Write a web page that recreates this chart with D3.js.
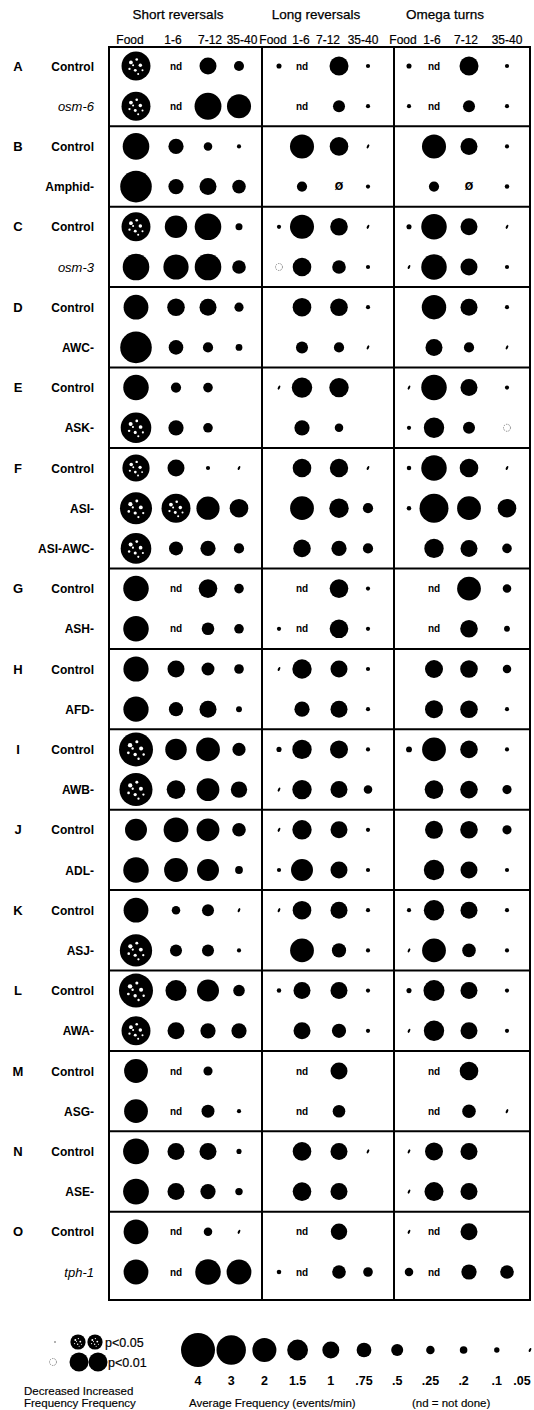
<!DOCTYPE html>
<html>
<head>
<meta charset="utf-8">
<script src="https://cdn.jsdelivr.net/npm/d3@7"></script>
<style>
body { margin: 0; background: #fff; }
svg { display: block; font-family: "Liberation Sans", Arial, sans-serif; }
</style>
</head>
<body>
<div id="chart"></div>
<script>
// behaviours and time windows (panels and columns)
const behaviours = ["Short reversals", "Long reversals", "Omega turns"];
const times = ["Food", "1-6", "7-12", "35-40"];

// rows of the figure
const rowGroups = ["A","A","B","B","C","C","D","D","E","E","F","F","F","G","G","H","H","I","I","J","J","K","K","L","L","M","M","N","N","O","O"];
const rowNames = ["Control","osm-6","Control","Amphid-","Control","osm-3","Control","AWC-","Control","ASK-",
  "Control","ASI-","ASI-AWC-","Control","ASH-","Control","AFD-","Control","AWB-","Control","ADL-",
  "Control","ASJ-","Control","AWA-","Control","ASG-","Control","ASE-","Control","tph-1"];
const italicNames = ["osm-6", "osm-3", "tph-1"];

// average frequency (events/min); null = blank, "nd" = not done, "0" = zero, "dec" = decreased p<0.01
const shortRev = [
  [2.9,"nd",1.0,0.35],[2.9,"nd",2.5,2.0],
  [2.45,0.8,0.25,0.06],[3.45,0.8,1.0,0.64],
  [2.9,1.74,2.45,0.17],[2.45,2.2,2.45,0.64],
  [2.13,1.07,1.0,0.29],[3.45,0.74,0.36,0.16],
  [2.25,0.36,0.32,null],[3.24,0.8,0.32,null],
  [2.56,1.0,0.06,0.05],[3.55,2.9,1.86,1.2],[3.24,0.68,0.8,0.36],
  [2.25,"nd",1.2,0.32],[2.25,"nd",0.55,0.32],
  [2.2,1.0,0.58,0.32],[2.2,0.7,1.0,0.12],
  [4.0,1.6,1.96,0.6],[3.77,1.2,1.8,0.93],
  [1.67,2.13,1.8,0.64],[2.25,1.96,1.67,0.21],
  [2.13,0.25,0.5,0.05],[3.6,0.5,0.5,0.06],
  [4.0,1.53,1.67,0.46],[2.9,1.0,0.8,0.8],
  [1.96,"nd",0.29,null],[1.96,"nd",0.58,0.06],
  [2.3,1.0,1.0,0.09],[2.3,1.0,0.8,0.19],
  [2.13,"nd",0.25,0.05],[2.13,"nd",2.25,2.13]
];
const longRev = [
  [0.09,"nd",1.25,0.06],[null,"nd",0.5,0.06],
  [null,2.0,1.2,0.05],[null,0.36,"0",0.06],
  [0.06,2.0,1.07,0.05],["dec",1.2,0.64,0.06],
  [null,1.2,1.07,0.06],[null,0.5,0.36,0.05],
  [0.05,1.44,1.3,null],[null,0.8,0.25,null],
  [null,1.2,1.17,0.05],[null,1.96,1.3,0.36],[null,1.07,0.8,0.36],
  [null,"nd",1.2,0.06],[0.06,"nd",1.2,0.06],
  [0.05,1.3,1.0,0.06],[null,0.8,1.0,0.06],
  [0.09,1.3,1.12,0.06],[0.05,1.3,1.0,0.25],
  [0.05,1.3,1.0,0.06],[0.06,1.67,1.0,0.06],
  [0.05,1.2,1.0,0.06],[null,1.96,0.7,0.06],
  [0.07,1.0,1.0,0.06],[null,1.0,0.7,0.06],
  [null,"nd",1.0,null],[null,"nd",0.55,null],
  [null,1.2,1.0,0.05],[null,1.2,1.0,null],
  [null,"nd",0.93,null],[0.07,"nd",0.64,0.32]
];
const omegaTurns = [
  [0.09,"nd",1.25,0.06],[0.06,"nd",0.5,0.06],
  [null,2.0,1.0,0.06],[null,0.36,"0",0.07],
  [0.09,2.25,1.0,0.05],[0.05,2.25,1.0,0.06],
  [null,2.07,1.0,0.06],[null,1.0,0.36,0.05],
  [0.05,2.25,1.0,0.06],[0.06,1.44,0.5,"dec"],
  [0.07,2.25,1.2,0.05],[0.07,2.9,1.96,1.2],[null,1.3,1.0,0.32],
  [null,"nd",1.96,0.25],[null,"nd",1.07,0.12],
  [null,1.12,1.07,0.25],[null,1.12,1.07,0.06],
  [0.12,1.96,1.07,0.06],[null,1.2,1.07,0.29],
  [null,1.12,1.07,0.29],[null,1.44,1.0,0.06],
  [0.06,1.44,1.0,0.06],[0.05,1.96,0.64,0.06],
  [0.09,1.53,1.0,0.06],[0.05,1.44,1.0,0.06],
  [null,"nd",1.2,null],[null,"nd",0.64,0.05],
  [0.05,1.12,1.0,null],[0.05,1.25,1.0,null],
  [0.05,"nd",1.0,null],[0.25,"nd",0.8,0.64]
];
// increased frequency p<0.05 (speckled), as [behaviour, row, time]
const speckled = [[0,0,0],[0,1,0],[0,4,0],[0,9,0],[0,10,0],[0,11,0],[0,11,1],[0,12,0],
  [0,17,0],[0,18,0],[0,22,0],[0,23,0],[0,24,0]];

// size legend
const legendValues = [4, 3, 2, 1.5, 1, 0.75, 0.5, 0.25, 0.2, 0.1, 0.05];
const legendLabels = ["4", "3", "2", "1.5", "1", ".75", ".5", ".25", ".2", ".1", ".05"];

const width = 534, height = 1410;
const svg = d3.select("#chart").append("svg")
  .attr("width", width).attr("height", height);

const panels = [shortRev, longRev, omegaTurns];
const panelEdges = [109, 262, 394, 530];
const colX = [[136,176,208,239],[279,302,339,368],[409,434,469,507]];
const colLabelX = [[130,173,210,242],[273,301,328,363],[403,432,466,507]];

const y = d3.scalePoint().domain(d3.range(rowNames.length)).range([66, 1272]);
const rowStep = y.step();
const r = d3.scaleSqrt().domain([0, 4]).range([0, 17]);

const boxTop = 47, boxBottom = 1300;

// titles
svg.selectAll(".title").data(behaviours).enter().append("text")
  .attr("x", (d, i) => [178, 316, 445][i])
  .attr("y", 19)
  .attr("text-anchor", "middle")
  .style("font-size", "13.5px")
  .style("stroke", "#000").style("stroke-width", 0.25)
  .text(d => d);

behaviours.forEach((b, bi) => {
  svg.selectAll(".tl" + bi).data(times).enter().append("text")
    .attr("x", (d, ti) => colLabelX[bi][ti])
    .attr("y", 44)
    .attr("text-anchor", "middle")
    .style("font-size", "12px")
    .style("stroke", "#000").style("stroke-width", 0.2)
    .text(d => d);
});

// row labels
const groupStarts = d3.range(rowNames.length).filter(i => i === 0 || rowGroups[i] !== rowGroups[i - 1]);
svg.selectAll(".glab").data(groupStarts).enter().append("text")
  .attr("x", 18).attr("y", i => y(i) + 4.5)
  .attr("text-anchor", "middle")
  .style("font-size", "13px").style("font-weight", "bold")
  .text(i => rowGroups[i]);

svg.selectAll(".rlab").data(rowNames).enter().append("text")
  .attr("x", 94).attr("y", (d, i) => y(i) + 4.5)
  .attr("text-anchor", "end")
  .style("font-size", d => italicNames.includes(d) ? "13px" : "12px")
  .style("font-style", d => italicNames.includes(d) ? "italic" : "normal")
  .style("font-weight", d => italicNames.includes(d) ? "normal" : "bold")
  .text(d => d);

// box lines
const lines = svg.append("g").attr("stroke", "#000").attr("stroke-width", 2);
panelEdges.forEach(x => {
  lines.append("line").attr("x1", x).attr("x2", x).attr("y1", boxTop).attr("y2", boxBottom);
});
const hLines = [boxTop].concat(groupStarts.slice(1).map(i => y(i) - rowStep / 2)).concat([boxBottom]);
hLines.forEach(h => {
  lines.append("line").attr("x1", panelEdges[0] - 1).attr("x2", panelEdges[3] + 1).attr("y1", h).attr("y2", h);
});

// speckle texture offsets (fraction of radius) for the p<0.05 symbols
const specks = [[-0.35,-0.25,0.13],[0.05,-0.45,0.09],[0.3,-0.05,0.12],[-0.05,0.3,0.1],
  [0.45,0.3,0.07],[-0.45,0.2,0.08],[0.15,0.55,0.07],[-0.2,-0.05,0.07]];

function drawMark(g, v, cx, cy, speck) {
  if (v === null) return;
  if (v === "nd") {
    g.append("text").attr("x", cx).attr("y", cy + 3.5)
      .attr("text-anchor", "middle")
      .style("font-size", "10px").style("font-weight", "bold")
      .text("nd");
    return;
  }
  if (v === "0") {
    g.append("text").attr("x", cx).attr("y", cy + 3.5)
      .attr("text-anchor", "middle")
      .style("font-size", "10px").style("font-weight", "bold")
      .style("font-family", "DejaVu Sans")
      .text("Ø");
    return;
  }
  if (v === "dec") {
    g.append("circle").attr("cx", cx).attr("cy", cy).attr("r", 3.5)
      .attr("fill", "none").attr("stroke", "#888").attr("stroke-width", 1)
      .attr("stroke-dasharray", "1.5,1");
    return;
  }
  if (v <= 0.05) {
    g.append("ellipse").attr("cx", cx).attr("cy", cy)
      .attr("rx", 1.1).attr("ry", 2.2)
      .attr("transform", `rotate(25,${cx},${cy})`)
      .attr("fill", "#000");
    return;
  }
  const rr = r(v);
  g.append("circle").attr("cx", cx).attr("cy", cy).attr("r", rr).attr("fill", "#000");
  if (speck) {
    specks.forEach(s => {
      g.append("circle")
        .attr("cx", cx + s[0] * rr).attr("cy", cy + s[1] * rr)
        .attr("r", s[2] * rr).attr("fill", "#fff");
    });
  }
}

const marks = svg.append("g");
panels.forEach((data, bi) => {
  data.forEach((row, ri) => {
    row.forEach((v, ti) => {
      const sp = speckled.some(s => s[0] === bi && s[1] === ri && s[2] === ti);
      drawMark(marks, v, colX[bi][ti], y(ri), sp);
    });
  });
});

// size legend
const lx = d3.scalePoint().domain(legendValues).range([198, 530]);
const leg = svg.append("g");
legendValues.forEach(v => drawMark(leg, v, lx(v), 1350, false));
leg.selectAll(".ll").data(legendLabels).enter().append("text")
  .attr("x", (d, i) => Math.min(lx(legendValues[i]), 522))
  .attr("y", 1385)
  .attr("text-anchor", "middle")
  .style("font-size", "12.5px").style("font-weight", "bold")
  .text(d => d);

// significance legend
leg.append("circle").attr("cx", 55).attr("cy", 1342).attr("r", 1).attr("fill", "#999");
drawMark(leg, 0.8, 78, 1342, true);
drawMark(leg, 0.8, 95, 1342, true);
leg.append("text").attr("x", 105).attr("y", 1347).style("font-size", "12.5px")
  .style("stroke", "#000").style("stroke-width", 0.2).text("p<0.05");
drawMark(leg, "dec", 53, 1362, false);
drawMark(leg, 1.25, 79, 1362, false);
drawMark(leg, 1.25, 98, 1362, false);
leg.append("text").attr("x", 108).attr("y", 1367).style("font-size", "12.5px")
  .style("stroke", "#000").style("stroke-width", 0.2).text("p<0.01");

const notes = [["Decreased Increased", 24, 1395], ["Frequency Frequency", 24, 1407],
  ["Average Frequency (events/min)", 189, 1407], ["(nd = not done)", 412, 1407]];
leg.selectAll(".note").data(notes).enter().append("text")
  .attr("x", d => d[1]).attr("y", d => d[2])
  .style("font-size", "11.5px")
  .style("stroke", "#000").style("stroke-width", 0.15)
  .text(d => d[0]);
</script>
</body>
</html>
